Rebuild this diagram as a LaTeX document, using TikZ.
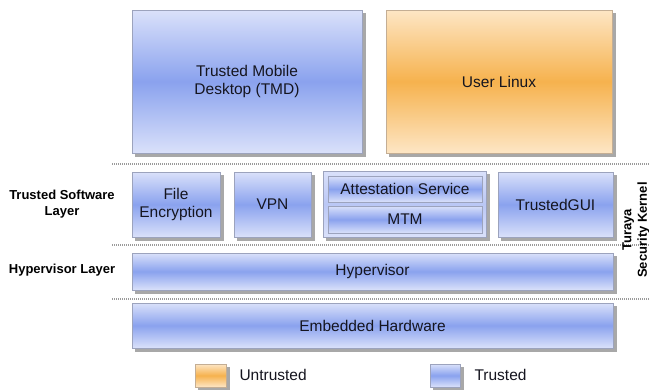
\documentclass[tikz,border=0pt]{standalone}
\usepackage{fontspec}
\setmainfont{Liberation Sans}
\usetikzlibrary{backgrounds,calc}
\definecolor{blueL}{HTML}{DAE1FA}
\definecolor{blueM}{HTML}{8AA2EE}
\definecolor{blueG}{HTML}{BAC7F5}
\definecolor{orL}{HTML}{FDE6C5}
\definecolor{orM}{HTML}{F6B24E}
\definecolor{edgeB}{HTML}{9CA3BD}
\definecolor{edgeO}{HTML}{C4AE94}
\definecolor{shad}{HTML}{A8A8A8}
\definecolor{txt}{HTML}{15151F}
\definecolor{dotc}{HTML}{9A9A9A}
\tikzset{
  boxbase/.style={rectangle, inner sep=0pt, align=center, text=txt,
    font=\fontsize{15.5}{18}\selectfont},
  bluebox/.style={boxbase, draw=edgeB, line width=0.6pt,
    top color=blueL, bottom color=blueL, middle color=blueM},
  groupbox/.style={boxbase, draw=edgeB, line width=0.6pt,
    top color=blueL, bottom color=blueL, middle color=blueG},
  innerbox/.style={boxbase, draw=edgeB, line width=0.6pt,
    top color=blueL, bottom color=blueL, middle color=blueM},
  orbox/.style={boxbase, draw=edgeO, line width=0.6pt,
    top color=orL, bottom color=orL, middle color=orM},
  layerlabel/.style={align=center, text=black, font=\fontsize{13}{15.5}\selectfont\bfseries},
  legtext/.style={anchor=west, text=txt, font=\fontsize{15.5}{18}\selectfont},
  sep/.style={dotc, line width=1.2pt, dash pattern=on 1pt off 1pt}
}
\begin{document}
\begin{tikzpicture}[x=1pt,y=-1pt]
\useasboundingbox (0,0) rectangle (649,389);
% separators
\draw[sep] (112,164) -- (649,164);
\draw[sep] (112,245) -- (649,245);
\draw[sep] (112,299) -- (649,299);
% top
\node[bluebox, minimum width=230pt, minimum height=143pt] (tmd) at (247,81.5) {Trusted Mobile\\Desktop (TMD)};
\node[orbox, minimum width=226pt, minimum height=143pt] (linux) at (499,81.5) {User Linux};
% trusted software layer
\node[bluebox, minimum width=88pt, minimum height=65pt] (fenc) at (176,204.5) {File\\Encryption};
\node[bluebox, minimum width=77pt, minimum height=65pt] (vpn) at (272.5,204.5) {VPN};
\node[groupbox, minimum width=163pt, minimum height=66pt] (grp) at (404.5,204) {};
\node[innerbox, minimum width=154pt, minimum height=26pt] (att) at (405,189) {Attestation Service};
\node[innerbox, minimum width=154pt, minimum height=27pt] (mtm) at (405,219.5) {MTM};
\node[bluebox, minimum width=115pt, minimum height=65pt] (gui) at (555.5,204.5) {TrustedGUI};
% hypervisor and hardware
\node[bluebox, minimum width=481pt, minimum height=37pt] (hyp) at (372.5,271.5) {Hypervisor};
\node[bluebox, minimum width=481pt, minimum height=45pt] (hw) at (372.5,325.5) {Embedded Hardware};
% labels
\node[layerlabel] (lsw) at (62,204) {Trusted Software\\Layer};
\node[layerlabel] (lhyp) at (62,270) {Hypervisor Layer};
\node[layerlabel, rotate=90] (kern) at (636,230) {Turaya\\Security Kernel};
% legend
\node[orbox, minimum width=31pt, minimum height=23pt] (lu) at (210.5,375.5) {};
\node[legtext] (lut) at (236,375) {Untrusted};
\node[bluebox, minimum width=30pt, minimum height=23pt] (lt) at (445,375.5) {};
\node[legtext] (ltt) at (471,375) {Trusted};
% background and shadows
\begin{scope}[on background layer]
  \fill[white] (0,0) rectangle (649,389);
  \foreach \n in {tmd,linux,fenc,vpn,grp,gui,hyp,hw,lu,lt}
    \fill[shad] ($(\n.north west)+(3.5,3.5)$) rectangle ($(\n.south east)+(3.5,3.5)$);
\end{scope}
\end{tikzpicture}
\end{document}
